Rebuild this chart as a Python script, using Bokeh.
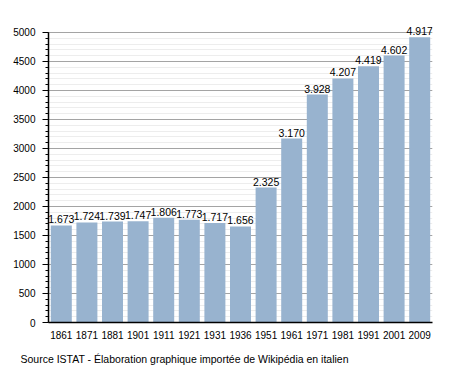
from bokeh.plotting import figure
from bokeh.models import ColumnDataSource, LabelSet, Title, FixedTicker, Range1d, FactorRange
from bokeh.core.properties import value
from bokeh.embed import file_html
from bokeh.resources import INLINE

years = ["1861", "1871", "1881", "1901", "1911", "1921", "1931", "1936",
         "1951", "1961", "1971", "1981", "1991", "2001", "2009"]
population = [1673, 1724, 1739, 1747, 1806, 1773, 1717, 1656,
              2325, 3170, 3928, 4207, 4419, 4602, 4917]
labels = ["1.673", "1.724", "1.739", "1.747", "1.806", "1.773", "1.717", "1.656",
          "2.325", "3.170", "3.928", "4.207", "4.419", "4.602", "4.917"]
y_ticks = [0, 500, 1000, 1500, 2000, 2500, 3000, 3500, 4000, 4500, 5000]
source_note = "Source ISTAT - Élaboration graphique importée de Wikipédia en italien"

src = ColumnDataSource(dict(x=years, y=population, t=labels))

p = figure(width=456, height=373, x_range=FactorRange(*years, range_padding=0),
           y_range=Range1d(0, 5240), output_backend="svg", toolbar_location=None,
           min_border_left=48, min_border_right=24, min_border_top=18, min_border_bottom=50)
p.outline_line_color = None
p.background_fill_color = "white"

p.vbar(x="x", top="y", width=0.82, source=src, fill_color="#98b3cf", line_color=None)

p.yaxis.ticker = FixedTicker(ticks=y_ticks, minor_ticks=list(range(0, 5001, 100)))
p.yaxis.bounds = (0, 5000)
p.ygrid.grid_line_color = "#a4a4a4"
p.ygrid.minor_grid_line_color = "#ededed"
p.xgrid.grid_line_color = None
p.ygrid.level = "underlay"

for ax in (p.xaxis, p.yaxis):
    ax.major_label_text_font = "Liberation Sans"
    ax.major_label_text_font_size = "10px"
    ax.major_label_text_color = "black"
    ax.axis_line_color = "black"
    ax.axis_line_width = 1.5

p.yaxis.major_tick_line_color = "black"
p.yaxis.major_tick_out = 6
p.yaxis.major_tick_in = 0
p.yaxis.minor_tick_line_color = "black"
p.yaxis.minor_tick_out = 3
p.yaxis.minor_tick_in = 0
p.yaxis.major_label_standoff = 7
p.xaxis.major_tick_line_color = None
p.xaxis.minor_tick_line_color = None
p.xaxis.major_label_standoff = 2

p.add_layout(LabelSet(x="x", y="y", text="t", source=src, text_align="center",
                      text_baseline="bottom", y_offset=2, text_font=value("Liberation Sans"),
                      text_font_size="10.5px", text_color="black"))

p.add_layout(Title(text=source_note, align="left", offset=-28, standoff=18,
                   text_font="Liberation Sans", text_font_size="10.5px",
                   text_font_style="normal", text_color="black"), "below")

open("out.html", "w").write(file_html(p, INLINE))
